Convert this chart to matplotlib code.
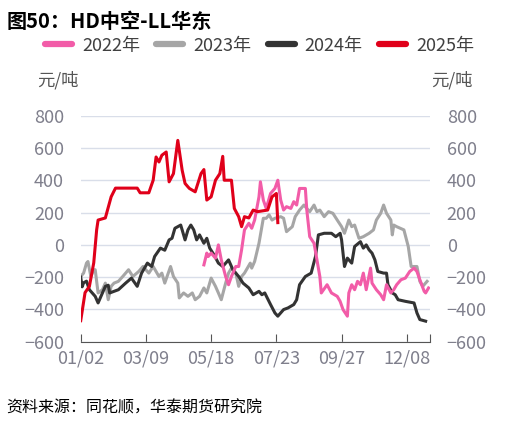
import matplotlib
matplotlib.use("Agg")
import matplotlib.pyplot as plt

plt.rcParams['font.family'] = ['Noto Sans CJK SC', 'DejaVu Sans']

# 横轴为交易日序号
tick_pos = [0, 45, 90, 135, 180, 225]
tick_labels = ['01/02', '03/09', '05/18', '07/23', '09/27', '12/08']
x_end = 241

x_2022 = [85, 87, 88, 90, 93, 95, 97, 100, 102, 104, 107, 109, 111, 113, 116, 118, 120, 123, 124, 126,
          128, 131, 134, 136, 138, 140, 142, 145, 147, 149, 151, 155, 156, 158, 161, 163, 165, 166, 170, 173,
          177, 179, 181, 184, 185, 187, 189, 191, 193, 195, 197, 200, 201, 204, 207, 209, 211, 214, 216, 218,
          221, 224, 227, 230, 232, 234, 237, 238, 240]
y_2022 = [-124, -51, -72, -51, -82, 0, -93, -196, -247, -196, -134, -134, -31, 93, 134, 103, 154, 298, 391, 278,
          226, 319, 350, 401, 278, 216, 237, 226, 268, 247, 350, 350, 216, 51, 10, -93, -196, -298, -247, -298,
          -319, -350, -401, -442, -298, -247, -278, -226, -247, -175, -278, -144, -237, -278, -309, -340, -247, -298, -278, -247,
          -216, -206, -165, -144, -165, -216, -288, -298, -267]

x_2023 = [0, 2, 4, 5, 7, 9, 10, 12, 15, 17, 19, 21, 23, 26, 29, 33, 36, 40, 43, 47,
          50, 54, 56, 58, 62, 64, 67, 68, 71, 74, 77, 79, 82, 85, 87, 90, 93, 95, 97, 100,
          102, 104, 107, 109, 111, 113, 117, 118, 120, 123, 125, 126, 128, 130, 132, 134, 138, 140, 142, 146,
          148, 151, 154, 156, 158, 161, 163, 165, 168, 171, 174, 177, 180, 182, 185, 187, 189, 192, 195, 199,
          202, 204, 207, 209, 211, 214, 215, 216, 218, 223, 226, 228, 232, 234, 236, 239]
y_2023 = [-196, -175, -113, -103, -196, -154, -154, -298, -278, -237, -340, -257, -237, -226, -196, -154, -196, -165, -134, -175,
          -134, -196, -175, -237, -134, -196, -237, -329, -298, -319, -298, -340, -319, -267, -298, -206, -257, -298, -340, -237,
          -175, -144, -175, -257, -196, -175, -113, -144, -103, 10, 113, 165, 165, 186, 154, 165, 175, 165, 82, 113,
          175, 216, 247, 226, 206, 247, 206, 216, 175, 206, 196, 154, 113, 72, 154, 113, 123, 41, 51, 72,
          93, 154, 196, 247, 196, 154, 62, 123, 113, 93, -10, -134, -134, -226, -257, -226]

x_2024 = [0, 1, 2, 4, 6, 10, 12, 15, 17, 19, 20, 26, 31, 35, 39, 42, 46, 49, 51, 55,
          58, 61, 63, 65, 69, 70, 72, 74, 76, 78, 80, 82, 85, 87, 89, 92, 95, 98, 102, 105,
          109, 112, 116, 119, 123, 125, 127, 131, 134, 136, 140, 143, 147, 149, 151, 155, 159, 162, 164, 168,
          173, 176, 179, 180, 182, 184, 187, 189, 193, 195, 197, 199, 201, 203, 205, 209, 211, 212, 215, 217,
          219, 224, 230, 232, 234, 238]
y_2024 = [-200, -260, -235, -225, -278, -319, -360, -298, -257, -250, -298, -278, -237, -206, -257, -175, -113, -134, -72, -20,
          -33, 31, 41, 103, 123, 93, 31, 93, 123, 93, 31, 62, 10, 41, -20, -62, -113, -134, -93, -154,
          -196, -237, -267, -309, -288, -309, -298, -370, -422, -442, -401, -391, -370, -340, -247, -196, -175, -72, 62, 72,
          72, 51, 72, 31, -134, -82, -113, -10, 20, -20, 0, -31, -51, -93, -165, -175, -175, -247, -298, -309,
          -340, -350, -360, -422, -463, -473]

x_2025 = [0, 3, 6, 9, 11, 12, 17, 21, 24, 39, 41, 47, 50, 52, 54, 56, 59, 61, 64, 67,
          70, 72, 74, 75, 79, 83, 85, 87, 90, 93, 96, 98, 99, 104, 106, 109, 111, 113, 116, 119,
          122, 129, 132, 135, 136]
y_2025 = [-470, -296, -257, -111, 93, 154, 167, 298, 352, 352, 323, 323, 401, 545, 514, 556, 576, 391, 442, 648,
          463, 381, 360, 350, 329, 442, 467, 278, 298, 401, 442, 549, 401, 401, 226, 175, 113, 175, 167, 216,
          206, 216, 298, 319, 138]

c22, c23, c24, c25 = '#f25ca8', '#a6a6a6', '#333333', '#e0001a'
tick_color = '#7f7f8c'

fig = plt.figure(figsize=(5.19, 4.26), dpi=100)
ax = fig.add_axes([0.1555, 0.198, 0.673, 0.530])

l23, = ax.plot(x_2023, y_2023, color=c23, lw=2.2, label='2023年')
l24, = ax.plot(x_2024, y_2024, color=c24, lw=2.2, label='2024年')
l22, = ax.plot(x_2022, y_2022, color=c22, lw=2.2, label='2022年')
l25, = ax.plot(x_2025, y_2025, color=c25, lw=2.2, label='2025年')

ax.set_xlim(0, x_end)
ax.set_ylim(-600, 800)
ax.set_yticks(range(-600, 801, 200))
ax.set_xticks(tick_pos + [x_end])
ax.set_xticklabels(tick_labels + [''])
ax.grid(axis='y', color='#d9dee9', lw=1)
ax.set_axisbelow(True)
for s in ['top', 'right', 'left']:
    ax.spines[s].set_visible(False)
ax.spines['bottom'].set_color('#555555')
ax.tick_params(axis='x', direction='in', length=5.5, color='#555555',
               labelsize=13, labelcolor=tick_color, pad=6)
ax.tick_params(axis='y', length=0, labelsize=13, labelcolor=tick_color, pad=12)

ax2 = ax.twinx()
ax2.set_ylim(-600, 800)
ax2.set_yticks(range(-600, 801, 200))
for s in ['top', 'right', 'left', 'bottom']:
    ax2.spines[s].set_visible(False)
ax2.tick_params(axis='y', length=0, labelsize=13, labelcolor=tick_color, pad=12)

fig.text(0.072, 0.812, '元/吨', fontsize=12.5, color='#555555', ha='left', va='center')
fig.text(0.910, 0.812, '元/吨', fontsize=12.5, color='#555555', ha='right', va='center')

fig.legend(handles=[l22, l23, l24, l25], loc='center', bbox_to_anchor=(0.5, 0.893),
           ncol=4, frameon=False, fontsize=13, handlelength=1.5, handletextpad=0.55,
           columnspacing=0.9, labelcolor='#404040')
for h in fig.legends[0].legend_handles:
    h.set_linewidth(4.5)
    h.set_solid_capstyle('round')

fig.text(0.012, 0.950, '图50：HD中空-LL华东', fontsize=14.5, fontweight='bold',
         ha='left', va='center', color='black')
fig.text(0.012, 0.042, '资料来源：同花顺，华泰期货研究院', fontsize=11.5, style='italic',
         ha='left', va='center', color='black')

fig.savefig('out.png', dpi=100)
